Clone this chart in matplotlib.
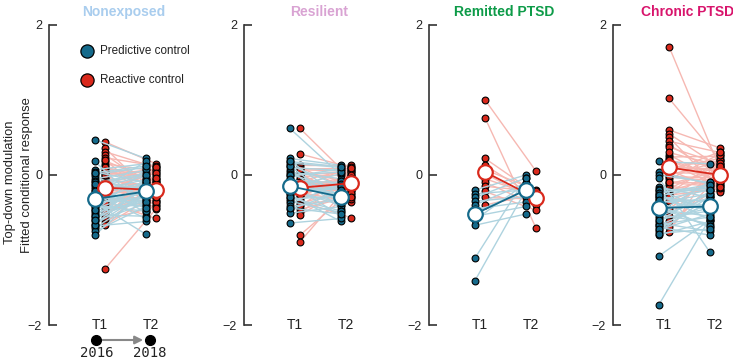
import numpy as np
import matplotlib
matplotlib.use("Agg")
import matplotlib.pyplot as plt

plt.rcParams['font.family'] = ['Liberation Sans', 'DejaVu Sans']

# group names and title colours
groups = ['Nonexposed', 'Resilient', 'Remitted PTSD', 'Chronic PTSD']
title_colors = ['#a9cdee', '#d9a3d3', '#0d9b48', '#d8146c']

# individual values, T1 / T2, predictive and reactive
pred_t1 = [
    [0.47, 0.18, 0.07, 0.04, 0.01, -0.02, -0.05, -0.08, -0.1, -0.13, -0.16, -0.19, -0.21, -0.24, -0.27,
     -0.29, -0.32, -0.35, -0.37, -0.4, -0.43, -0.45, -0.48, -0.51, -0.53, -0.56, -0.59, -0.62, -0.65, -0.68,
     -0.71, -0.75, -0.8, -0.12, -0.3, -0.42, -0.55, -0.66, -0.26, -0.36, 0.03, -0.47, -0.6, -0.22],
    [0.62, 0.22, 0.19, 0.16, 0.13, 0.1, 0.07, 0.04, 0.01, -0.02, -0.05, -0.08, -0.11, -0.14, -0.17, -0.2,
     -0.23, -0.26, -0.29, -0.32, -0.35, -0.38, -0.42, -0.46, -0.51, -0.64, 0.0, -0.1, -0.25, 0.12, -0.3,
     -0.06, 0.18, -0.16, -0.44, -0.22],
    [-0.2, -0.25, -0.3, -0.35, -0.4, -0.45, -0.5, -0.55, -0.6, -0.67, -1.11, -1.41],
    [0.18, 0.04, 0.0, -0.04, -0.16, -0.19, -0.22, -0.25, -0.28, -0.31, -0.34, -0.37, -0.4, -0.43, -0.46,
     -0.49, -0.52, -0.55, -0.58, -0.61, -0.64, -0.67, -0.7, -0.73, -0.76, -0.8, -1.08, -1.73, -0.2, -0.3,
     -0.24, -0.36, -0.44, -0.5, -0.27, -0.66, -0.72, -0.78, -0.33, -0.6],
]
pred_t2 = [
    [0.22, -0.45, 0.15, -0.1, 0.1, -0.3, 0.06, -0.2, 0.02, -0.5, -0.02, -0.15, -0.06, 0.18, -0.09, -0.25,
     -0.12, -0.35, -0.79, -0.18, -0.4, -0.22, 0.08, -0.28, -0.55, -0.32, -0.05, -0.38, -0.14, -0.62, -0.26,
     -0.42, -0.2, 0.0, -0.34, -0.48, -0.08, -0.24, -0.58, -0.3, 0.12, -0.36, -0.16, -0.44],
    [0.0, 0.13, -0.3, 0.1, -0.15, 0.06, -0.45, -0.05, -0.2, 0.08, -0.35, -0.1, -0.55, -0.25, 0.02, -0.4,
     -0.18, -0.62, -0.08, -0.28, -0.5, -0.12, -0.33, -0.22, -0.42, -0.58, 0.04, -0.3, -0.15, -0.38, -0.48,
     -0.2, 0.11, -0.26, -0.52, -0.36],
    [0.0, -0.2, -0.04, -0.29, -0.11, -0.36, -0.2, -0.42, -0.11, -0.52, -0.04, -0.2],
    [0.15, -0.12, -0.1, -1.03, -0.3, -0.5, -0.2, -0.6, -0.15, -0.35, -0.45, -0.25, -0.7, -0.4, -0.55, -0.09,
     -0.65, -0.3, -0.48, -0.22, -0.75, -0.38, -0.8, -0.52, -0.28, -0.62, -0.6, -0.58, -0.18, -0.42, -0.13,
     -0.33, -0.68, -0.26, -0.46, -0.56, -0.36, -0.72, -0.2, -0.44],
]
react_t1 = [
    [0.44, 0.36, 0.31, 0.27, 0.23, 0.19, 0.15, 0.12, 0.09, 0.06, 0.03, 0.0, -0.03, -0.06, -0.09, -0.12,
     -0.15, -0.18, -0.21, -0.24, -0.27, -0.3, -0.33, -0.36, -0.4, -0.44, -0.48, -0.52, -0.56, -0.6, -0.64,
     -0.67, -1.25, 0.1, -0.05, -0.2, -0.1, 0.2, -0.38, 0.0, -0.25, 0.05, -0.14, -0.5],
    [0.62, 0.28, 0.13, 0.1, 0.07, 0.04, 0.01, -0.02, -0.05, -0.08, -0.11, -0.14, -0.17, -0.2, -0.23, -0.26,
     -0.29, -0.32, -0.35, -0.38, -0.42, -0.46, -0.5, -0.53, -0.8, -0.89, 0.0, -0.12, -0.22, 0.08, -0.3,
     -0.06, -0.18, -0.4, -0.1, -0.27],
    [1.0, 0.76, 0.22, 0.13, 0.07, 0.02, -0.05, -0.1, -0.15, -0.22, -0.3, -0.4],
    [1.71, 1.02, 0.6, 0.55, 0.5, 0.45, 0.4, 0.37, 0.27, 0.24, 0.21, 0.18, 0.15, 0.12, 0.09, 0.06, 0.03, 0.0,
     -0.03, -0.06, -0.09, -0.12, -0.15, -0.18, -0.21, -0.24, -0.27, -0.3, -0.35, -0.45, -0.55, -0.62, -0.7,
     -0.76, 0.2, 0.1, -0.02, 0.3, -0.1, 0.05],
]
react_t2 = [
    [0.15, -0.3, 0.1, -0.2, 0.12, -0.1, 0.05, -0.35, 0.0, -0.15, -0.05, 0.08, -0.25, -0.4, 0.02, -0.12,
     -0.22, -0.3, 0.06, -0.18, -0.08, -0.38, -0.28, -0.58, -0.14, -0.02, -0.33, -0.2, 0.1, -0.42, -0.1,
     -0.26, -0.45, -0.06, -0.16, 0.03, -0.24, -0.36, -0.12, -0.3, -0.2, -0.04, -0.44, -0.18],
    [-0.05, 0.1, 0.13, -0.2, 0.05, -0.1, -0.3, 0.0, -0.15, 0.08, -0.25, -0.05, 0.11, -0.2, -0.36, -0.08,
     0.02, -0.12, -0.57, -0.18, 0.06, -0.28, -0.02, -0.14, -0.22, -0.1, 0.04, -0.32, -0.06, 0.09, -0.16,
     -0.24, 0.0, -0.3, -0.12, -0.04],
    [0.05, -0.71, -0.25, -0.3, -0.2, -0.35, -0.28, -0.4, -0.22, -0.47, -0.32, -0.25],
    [0.08, 0.2, 0.36, 0.1, -0.2, 0.3, 0.0, 0.15, -0.1, 0.25, -0.05, 0.12, -0.15, 0.05, 0.22, -0.2, 0.02,
     0.18, -0.08, 0.28, -0.12, 0.06, -0.23, 0.14, -0.02, 0.2, -0.18, 0.1, -0.06, 0.04, 0.16, -0.14, 0.0,
     0.26, -0.1, 0.08, -0.04, 0.12, -0.16, 0.31],
]

# fitted group means [T1, T2]
pred_mean = [[-0.32, -0.22], [-0.15, -0.29], [-0.52, -0.2], [-0.44, -0.42]]
react_mean = [[-0.17, -0.2], [-0.17, -0.11], [0.04, -0.31], [0.1, 0.0]]

times = ['T1', 'T2']
years = ['2016', '2018']

c_pred = '#156a8b'
c_react = '#d9291c'
c_pred_light = '#aed3df'
c_react_light = '#f6b8b2'
spine_c = '#333333'

fig = plt.figure(figsize=(7.33, 3.63), dpi=100)
lefts = [49, 244, 429, 613]
unit = 51.0
x_t = np.array([1.0, 2.0])
off = 0.1

for i, g in enumerate(groups):
    ax = fig.add_axes([lefts[i] / 733, 38 / 363, 148 / 733, 300 / 363])
    ax.set_xlim(0, 148 / unit)
    ax.set_ylim(-2, 2)
    for s in ['top', 'right', 'bottom']:
        ax.spines[s].set_visible(False)
    ax.spines['left'].set_linewidth(1.2)
    ax.spines['left'].set_color(spine_c)
    ax.set_xticks([])
    ax.set_yticks([-2, 0, 2])
    ax.set_yticklabels(['\u22122', '0', '2'])
    ax.tick_params(axis='y', direction='in', length=6, width=1.2, color=spine_c,
                   labelsize=9, pad=5, labelcolor='#222222')

    xp = x_t - off
    xr = x_t + off
    # reactive subjects
    for a, b in zip(react_t1[i], react_t2[i]):
        ax.plot(xr, [a, b], color=c_react_light, lw=1.0, zorder=1)
    ax.scatter([xr[0]] * len(react_t1[i]), react_t1[i], s=24, color=c_react,
               edgecolor='black', linewidth=0.8, zorder=2)
    ax.scatter([xr[1]] * len(react_t2[i]), react_t2[i], s=24, color=c_react,
               edgecolor='black', linewidth=0.8, zorder=2)
    # predictive subjects
    for a, b in zip(pred_t1[i], pred_t2[i]):
        ax.plot(xp, [a, b], color=c_pred_light, lw=1.0, zorder=3)
    ax.scatter([xp[0]] * len(pred_t1[i]), pred_t1[i], s=24, color=c_pred,
               edgecolor='black', linewidth=0.8, zorder=4)
    ax.scatter([xp[1]] * len(pred_t2[i]), pred_t2[i], s=24, color=c_pred,
               edgecolor='black', linewidth=0.8, zorder=4)
    # means
    ax.plot(xr, react_mean[i], color=c_react, lw=1.3, marker='o', ms=10.5,
            mfc='white', mec=c_react, mew=1.6, zorder=6)
    ax.plot(xp, pred_mean[i], color=c_pred, lw=1.3, marker='o', ms=10.5,
            mfc='white', mec=c_pred, mew=1.6, zorder=7)

    for xt, t in zip(x_t, times):
        ax.text(xt, -2.0, t, ha='center', va='center', fontsize=10, color='#222222')

    ax.text(1.47, 2.17, g, ha='center', va='center', fontsize=10, fontweight='bold',
            color=title_colors[i], clip_on=False)

    if i == 0:
        ax.plot(0.745, 1.65, 'o', ms=9.5, color=c_pred, mec='black', mew=0.9, zorder=8)
        ax.plot(0.745, 1.27, 'o', ms=9.5, color=c_react, mec='black', mew=0.9, zorder=8)
        ax.text(1.0, 1.65, 'Predictive control', va='center', fontsize=8.4, color='#222222')
        ax.text(1.0, 1.27, 'Reactive control', va='center', fontsize=8.4, color='#222222')
        # timeline
        ax.annotate('', xy=(1.9, -2.2), xytext=(1.0, -2.2),
                    arrowprops=dict(arrowstyle='-|>', color='#888888', lw=1.5, mutation_scale=12),
                    annotation_clip=False)
        ax.plot([0.93, 1.98], [-2.2, -2.2], 'o', ms=7, color='black', clip_on=False, zorder=9)
        for xt, yr in zip([0.93, 1.98], years):
            ax.text(xt, -2.37, yr, ha='center', va='center', fontsize=10,
                    family='DejaVu Sans Mono', color='#222222', clip_on=False)

fig.text(10 / 733, 1 - 182 / 363, 'Top-down modulation', rotation=90, ha='center', va='center',
         fontsize=9.4, color='#222222')
fig.text(27 / 733, 1 - 175 / 363, 'Fitted conditional response', rotation=90, ha='center',
         va='center', fontsize=9.4, color='#222222')

fig.savefig('out.png', dpi=100)
